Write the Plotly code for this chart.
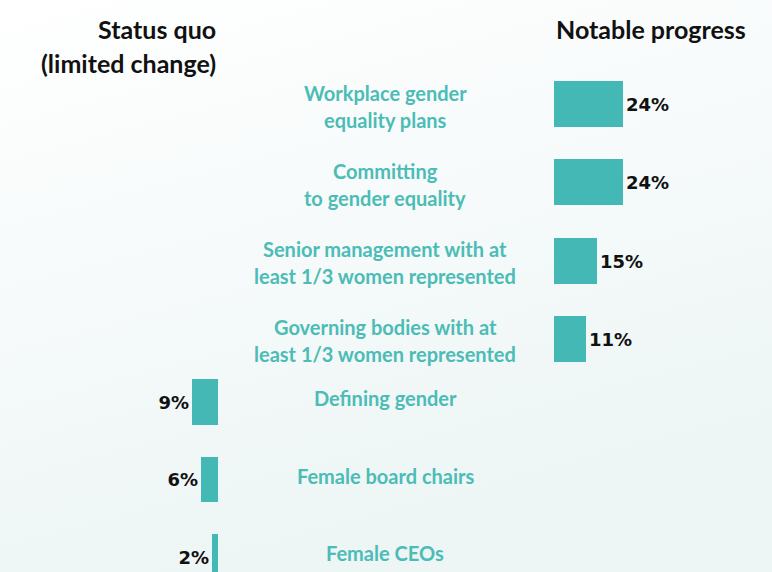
import base64
import plotly.graph_objects as go

# ---- data ----
progress_labels = [
    "Workplace gender<br>equality plans",
    "Committing<br>to gender equality",
    "Senior management with at<br>least 1/3 women represented",
    "Governing bodies with at<br>least 1/3 women represented",
]
progress_values = [24, 24, 15, 11]

status_labels = ["Defining gender", "Female board chairs", "Female CEOs"]
status_values = [9, 6, 2]

header_left = "Status quo<br>(limited change)"
header_right = "Notable progress"

# ---- style ----
W, H = 772, 572
TEAL = "#44b8b4"
LABEL_TEAL = "#4bbcb6"
PX_PER_PCT = 2.88
LEFT_ZERO = 218
RIGHT_ZERO = 554
PCT_FONT = dict(family="DejaVu Sans", size=18, color="#111111", weight="bold")

fig = go.Figure()

fig.add_trace(go.Bar(
    x=progress_values, y=list(range(len(progress_values))), orientation="h",
    marker=dict(color=TEAL, line=dict(width=0)), width=0.59,
    text=[f"{v}%" for v in progress_values], textposition="outside",
    textfont=PCT_FONT, cliponaxis=False, xaxis="x2", yaxis="y2",
    hoverinfo="skip",
))
fig.add_trace(go.Bar(
    x=status_values, y=list(range(len(status_values))), orientation="h",
    marker=dict(color=TEAL, line=dict(width=0)), width=0.59,
    text=[f"{v}%" for v in status_values], textposition="outside",
    textfont=PCT_FONT, cliponaxis=False, xaxis="x", yaxis="y",
    hoverinfo="skip",
))

annotations = []
lab_font = dict(family="Lato", size=20, color=LABEL_TEAL, weight="bold")
for i, lab in enumerate(progress_labels):
    lines = lab.split("<br>")
    n = len(lines)
    for j, line in enumerate(lines):
        annotations.append(dict(
            x=385 / W, xref="paper", y=i, yref="y2", text=line,
            showarrow=False, xanchor="center", yanchor="middle",
            yshift=(n - 1) / 2 * 27 - j * 27 - 2, font=lab_font,
        ))
for i, lab in enumerate(status_labels):
    annotations.append(dict(
        x=385 / W, xref="paper", y=i, yref="y", text=lab,
        showarrow=False, xanchor="center", yanchor="middle", yshift=4,
        font=lab_font,
    ))

head_font = dict(family="Lato", size=25, color="#111111", weight="bold")
for j, line in enumerate(header_left.split("<br>")):
    annotations.append(dict(
        x=LEFT_ZERO / W, xref="paper", y=1 - (29 + 34 * j) / H, yref="paper",
        text=line, showarrow=False, xanchor="right",
        yanchor="middle", font=head_font,
    ))
annotations.append(dict(
    x=RIGHT_ZERO / W, xref="paper", y=1 - 29 / H, yref="paper",
    text=header_right, showarrow=False, xanchor="left",
    yanchor="middle", font=head_font,
))

svg = (
    f'<svg xmlns="http://www.w3.org/2000/svg" width="{W}" height="{H}">'
    '<defs><linearGradient id="g" x1="0" y1="0" x2="0.35" y2="1">'
    '<stop offset="0" stop-color="#ffffff"/>'
    '<stop offset="1" stop-color="#edf5f5"/>'
    '</linearGradient></defs>'
    f'<rect width="{W}" height="{H}" fill="url(#g)"/></svg>'
)
bg_uri = "data:image/svg+xml;base64," + base64.b64encode(svg.encode()).decode()

span = (W - RIGHT_ZERO) / PX_PER_PCT
left_span = LEFT_ZERO / PX_PER_PCT

# right panel: category 0 at y=104px, 78.3 px per category
r_step, r_top = 78.3, 104
# left panel: category 0 at y=402px, 77.5 px per category
l_step, l_top = 77.5, 402

fig.update_layout(
    width=W, height=H,
    margin=dict(l=0, r=0, t=0, b=0),
    paper_bgcolor="white", plot_bgcolor="rgba(0,0,0,0)",
    showlegend=False, bargap=0,
    images=[dict(source=bg_uri, xref="paper", yref="paper", x=0, y=1,
                 sizex=1, sizey=1, sizing="stretch", layer="below")],
    xaxis=dict(domain=[0, LEFT_ZERO / W], range=[left_span, 0], visible=False,
               fixedrange=True),
    xaxis2=dict(domain=[RIGHT_ZERO / W, 1], range=[0, span], visible=False,
                fixedrange=True),
    yaxis=dict(domain=[0, 1], anchor="x",
               range=[(H - l_top) / l_step, -l_top / l_step], visible=False),
    yaxis2=dict(domain=[0, 1], anchor="x2",
                range=[(H - r_top) / r_step, -r_top / r_step], visible=False),
    annotations=annotations,
    uniformtext=dict(minsize=8, mode="show"),
)

fig.write_html(
    "out.html",
    config={"displayModeBar": False},
    post_script="document.body.style.margin='0';document.body.style.overflow='hidden';",
)
